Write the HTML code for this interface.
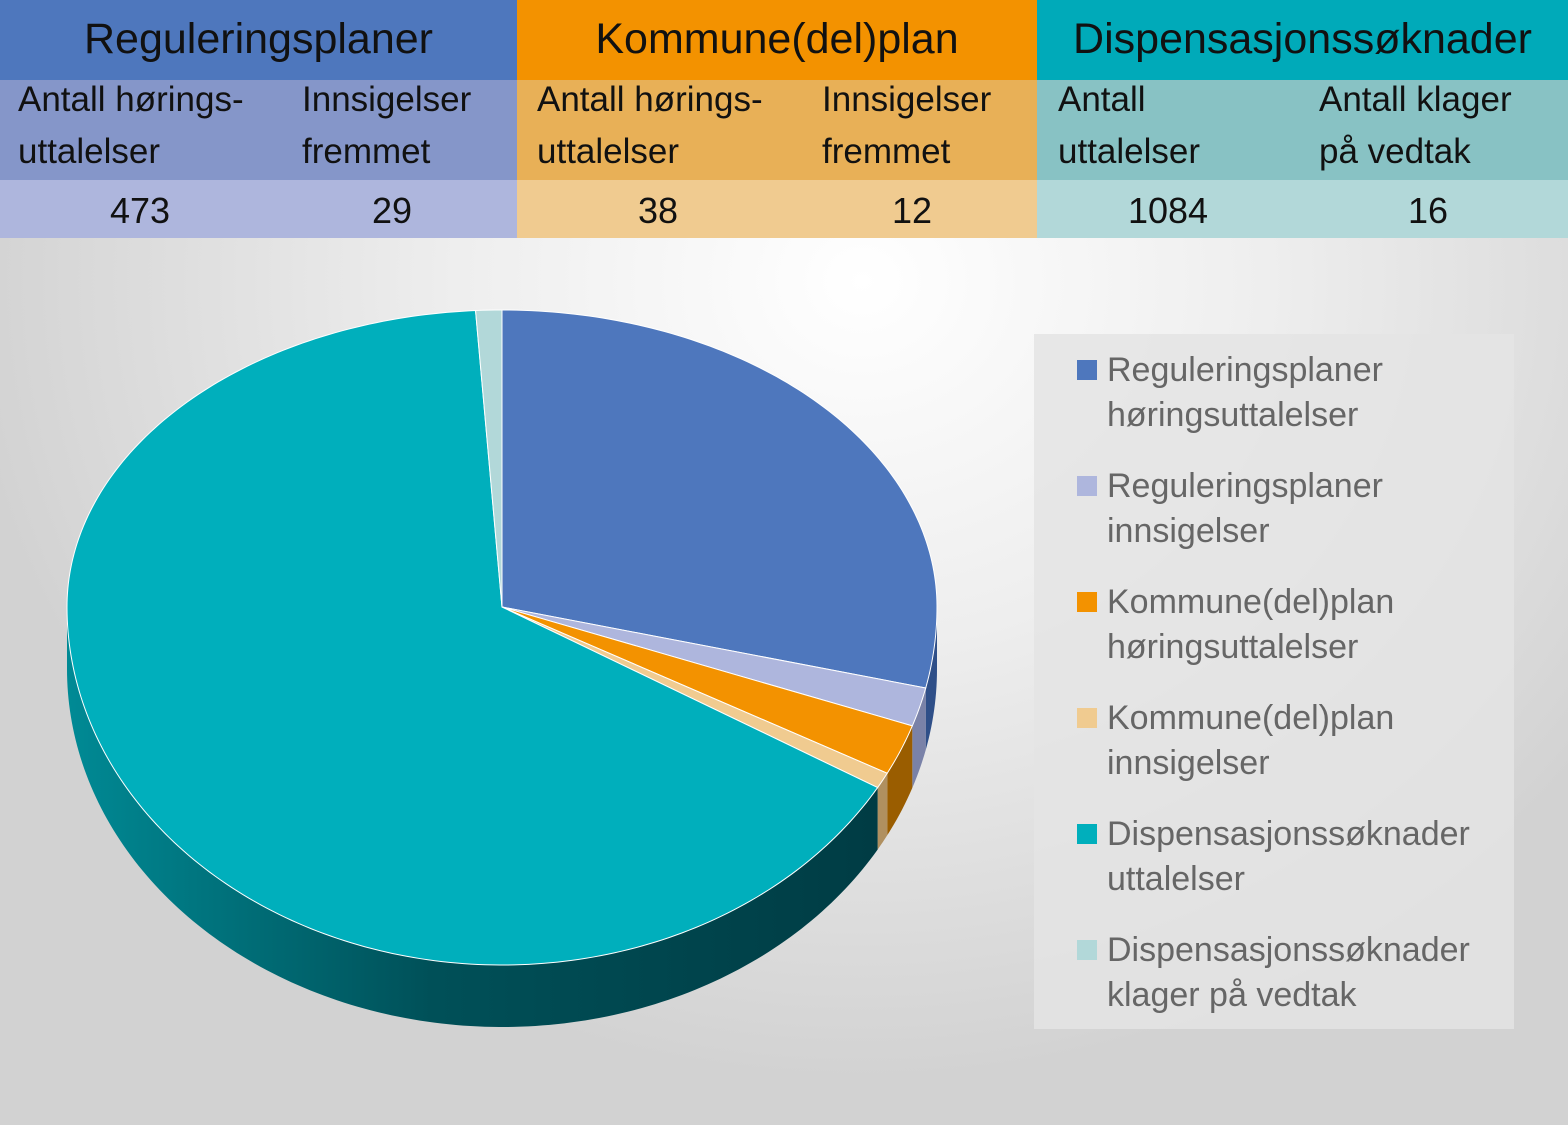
<!DOCTYPE html>
<html><head><meta charset="utf-8"><style>
body{margin:0;width:1568px;height:1125px;overflow:hidden;font-family:"Liberation Sans",sans-serif;background:radial-gradient(ellipse 900px 800px at 55% 25%,#ffffff 0%,#eeeeee 45%,#d2d2d2 100%);position:relative}
.c{position:absolute;box-sizing:border-box;color:#111}
.h{font-size:43px;text-align:center;line-height:78px;height:80px;top:0}
.s{font-size:35px;line-height:52px;top:80px;height:100px;padding:0 0 0 18px;margin-top:-6px}
.bg{margin-top:0}
.v{font-size:36px;line-height:62px;top:180px;height:58px;text-align:center}
</style></head><body>
<div class="c h" style="left:0;width:517px;background:#4e77bd">Reguleringsplaner</div>
<div class="c h" style="left:517px;width:520px;background:#f39200">Kommune(del)plan</div>
<div class="c h" style="left:1037px;width:531px;background:#00aab9">Dispensasjonssøknader</div>
<div class="c s bg" style="left:0;width:517px;background:#8596c9"></div>
<div class="c s bg" style="left:517px;width:520px;background:#e8b057"></div>
<div class="c s bg" style="left:1037px;width:531px;background:#88c2c4"></div>
<div class="c s" style="left:0">Antall hørings-<br>uttalelser</div>
<div class="c s" style="left:284px">Innsigelser<br>fremmet</div>
<div class="c s" style="left:519px">Antall hørings-<br>uttalelser</div>
<div class="c s" style="left:804px">Innsigelser<br>fremmet</div>
<div class="c s" style="left:1040px">Antall<br>uttalelser</div>
<div class="c s" style="left:1301px">Antall klager<br>på vedtak</div>
<div class="c v" style="left:0;width:517px;background:#aeb6dd"></div>
<div class="c v" style="left:517px;width:520px;background:#f0cb90"></div>
<div class="c v" style="left:1037px;width:531px;background:#b2d8d9"></div>
<div class="c v" style="left:40px;width:200px">473</div>
<div class="c v" style="left:292px;width:200px">29</div>
<div class="c v" style="left:558px;width:200px">38</div>
<div class="c v" style="left:812px;width:200px">12</div>
<div class="c v" style="left:1068px;width:200px">1084</div>
<div class="c v" style="left:1328px;width:200px">16</div>
<svg id="chart" width="1568" height="1125" style="position:absolute;left:0;top:0">
<defs>
<linearGradient id="wall" x1="0" x2="1" y1="0" y2="0"><stop offset="0" stop-color="#008a95"/><stop offset="0.45" stop-color="#005058"/><stop offset="1" stop-color="#003c44"/></linearGradient>
</defs>
<rect x="1034" y="334" width="480" height="695" fill="#e4e4e4" opacity="0.85"/>
</svg>
<script>
const categories=["Reguleringsplaner høringsuttalelser","Reguleringsplaner innsigelser","Kommune(del)plan høringsuttalelser","Kommune(del)plan innsigelser","Dispensasjonssøknader uttalelser","Dispensasjonssøknader klager på vedtak"];
const values=[473,29,38,12,1084,16];
const colors=["#4e77bd","#aeb6dd","#f39200","#f0cb90","#00afbc","#b2d8d9"];
const sideColors=["#2f4f88","#7a82a8","#9a5d00","#b09060","url(#wall)","#7fa0a2"];
const svg=document.getElementById('chart');
const NS="http://www.w3.org/2000/svg";
const cx=502,cy=607,rx=435,ryTop=297,ryBot=358,depth=62;
const total=values.reduce((a,b)=>a+b,0);
function pt(t,dy){const c=Math.cos(t);const ry=c>0?ryTop:ryBot;return [cx+rx*Math.sin(t),cy-ry*c+(dy||0)];}
function arc(s,e,dy,rev){const n=Math.max(4,Math.ceil((e-s)*60));let pts=[];for(let k=0;k<=n;k++)pts.push(pt(s+(e-s)*k/n,dy));if(rev)pts.reverse();return pts;}
let a=0;const slices=[];
values.forEach((v,i)=>{const a1=a+v/total*2*Math.PI;slices.push([a,a1]);a=a1;});
slices.forEach(([a0,a1],i)=>{
  const s=Math.max(a0,Math.PI/2),e=Math.min(a1,3*Math.PI/2);
  if(e<=s)return;
  const pts=arc(s,e,0,false).concat(arc(s,e,depth,true));
  const el=document.createElementNS(NS,'path');
  
  
  el.setAttribute('d',"M"+pts.map(p=>p[0]+" "+p[1]).join("L")+"Z");el.setAttribute('fill',sideColors[i]);
  svg.appendChild(el);
});
slices.forEach(([a0,a1],i)=>{
  const pts=[[cx,cy]].concat(arc(a0,a1,0,false));
  const el=document.createElementNS(NS,'path');
  
  
  el.setAttribute('d',"M"+pts.map(p=>p[0]+" "+p[1]).join("L")+"Z");
  el.setAttribute('fill',colors[i]);el.setAttribute('stroke','#ffffff');el.setAttribute('stroke-width','1');
  svg.appendChild(el);
});
categories.forEach((c,i)=>{
  const y=370+i*116;
  const r=document.createElementNS(NS,'rect');
  
  
  r.setAttribute('x',1077);r.setAttribute('y',y-10);r.setAttribute('width',20);r.setAttribute('height',20);r.setAttribute('fill',colors[i]);
  svg.appendChild(r);
  const parts=[c.slice(0,c.indexOf(' ')),c.slice(c.indexOf(' ')+1)];
  parts.forEach((p,j)=>{
    const t=document.createElementNS(NS,'text');
    
    
    t.setAttribute('x',1107);t.setAttribute('y',y+11+j*45);t.setAttribute('font-size','34');t.setAttribute('fill','#666');
    t.setAttribute('font-family','Liberation Sans, sans-serif');
    t.textContent=p;svg.appendChild(t);
  });
});
</script>
</body></html>
